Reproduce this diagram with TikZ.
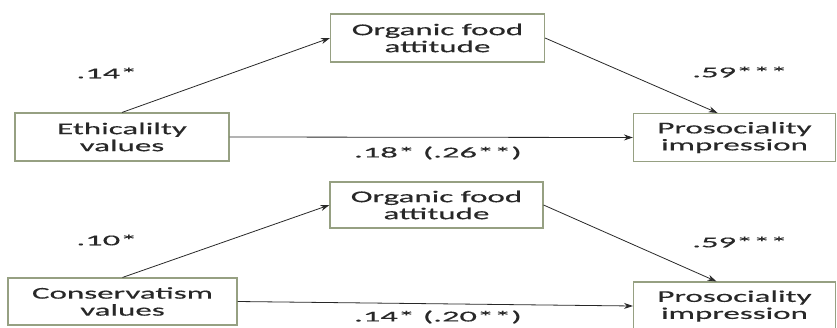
\documentclass[tikz,border=0pt]{standalone}
\usepackage{fontspec}
\usepackage{xcolor}
\usepackage{tikz}
\usetikzlibrary{arrows.meta,positioning,calc}
\newfontfamily\figfont[FakeStretch=2.0,FakeBold=0.4]{Carlito}
\newfontfamily\coeffont[FakeStretch=2.3,FakeBold=0.4]{Carlito}
\definecolor{boxline}{RGB}{150,160,130}
\definecolor{ink}{RGB}{40,40,40}

\begin{document}
\begin{tikzpicture}[x=1pt, y=-1pt,
    block/.style={rectangle, draw=boxline, line width=1.1pt, fill=white, minimum width=214pt, minimum height=48pt, align=center, text=ink, font=\figfont\fontsize{16.5}{17}\selectfont, inner sep=0pt},
    coef/.style={text=ink, font=\coeffont\fontsize{15}{17}\selectfont, inner sep=0pt},
    arrow/.style={-{Stealth[length=9pt,width=6pt]}, ink, line width=0.8pt}
]
    \useasboundingbox (0,0) rectangle (837,327);
    % top model
    \node[block] (eth) at (122,137) {Ethicalilty\\values};
    \node[block] (org) at (437.5,38) {Organic food\\attitude};
    \node[block, minimum width=202pt] (pro) at (734.5,137.5) {Prosociality\\impression};
    \draw[arrow] (eth.north) -- (org.west);
    \draw[arrow] (org.east) -- ([xshift=-17pt]pro.north);
    \draw[arrow] (eth.east) -- (pro.west);
    \node[coef] (a1) at (107,73) {.14*};
    \node[coef] (b1) at (740,72) {.59***};
    \node[coef] (c1) at (438,153) {.18* (.26**)};
    % bottom model
    \node[block, minimum width=229pt, minimum height=47pt] (con) at (122.5,301.5) {Conservatism\\values};
    \node[block, minimum width=213pt, minimum height=46pt] (org2) at (436.5,205) {Organic food\\attitude};
    \node[block, minimum width=202pt] (pro2) at (734.5,306) {Prosociality\\impression};
    \draw[arrow] (con.north) -- (org2.west);
    \draw[arrow] (org2.east) -- ([xshift=-18pt]pro2.north);
    \draw[arrow] (con.east) -- (pro2.west);
    \node[coef] (a2) at (107,240) {.10*};
    \node[coef] (b2) at (740,242) {.59***};
    \node[coef] (c2) at (438,317) {.14* (.20**)};
\end{tikzpicture}
\end{document}
